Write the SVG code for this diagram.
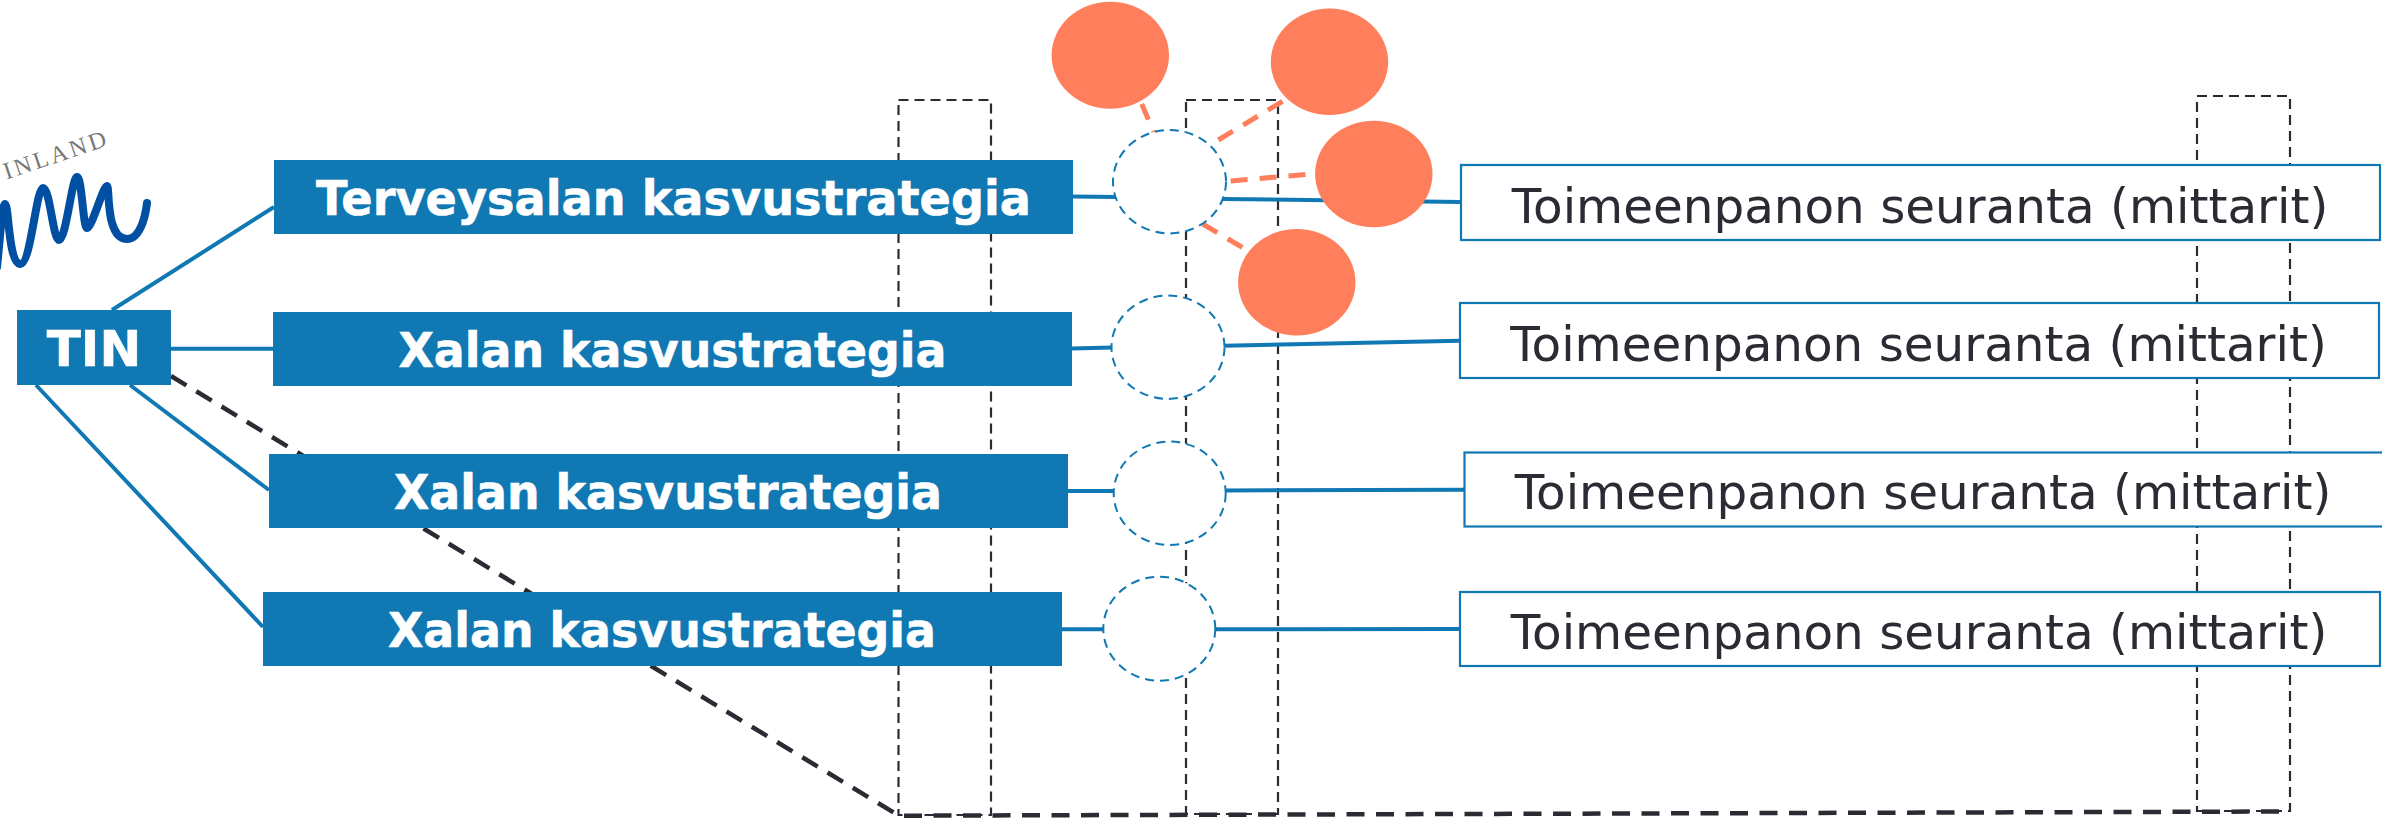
<svg xmlns="http://www.w3.org/2000/svg" width="2382" height="822" viewBox="0 0 2382 822">
<style>
.guide{fill:none;stroke:#2b2b33;stroke-width:2.2;stroke-dasharray:10 6}
.big{fill:none;stroke:#2b2b33;stroke-width:4.5;stroke-dasharray:18 11.5}
.link{fill:none;stroke:#1078b3;stroke-width:4}
.spoke{fill:none;stroke:#ff7f5c;stroke-width:5;stroke-dasharray:17 12}
.box{fill:#1078b3}
.out{fill:#fff;stroke:#1078b3;stroke-width:2.2}
.hub{fill:#fff;stroke:#1078b3;stroke-width:2;stroke-dasharray:9 6}
.blob{fill:#ff7f5c}
.w{font-family:"DejaVu Sans",sans-serif;font-weight:700;font-size:48px;fill:#fff;stroke:#fff;stroke-width:.6;text-anchor:middle}
.t{font-family:"DejaVu Sans",sans-serif;font-size:48.4px;fill:#2b2b33;text-anchor:middle}
</style>
<g id="logo">
<path d="M-3 267C0 240 2 204 5 204C9 204 8 262 20 264C31 265 36 188 43 188C50 188 53 240 59 240C66 240 72 177 77 177C82 177 83 228 87 228C92 228 103 186 107 186C110 186 105 239 127 239C139 239 145 220 147 203" fill="none" stroke="#004fa3" stroke-width="8" stroke-linecap="round" stroke-linejoin="round"/>
<text transform="translate(6.5 179.5) rotate(-18.5)" font-family="'Liberation Serif',serif" font-size="24" letter-spacing="3" fill="#777">INLAND</text>
</g>
<g id="guides">
<rect class="guide" x="898.5" y="100" width="92.5" height="715"/>
<rect class="guide" x="1186" y="100" width="92" height="714"/>
<rect class="guide" x="2197" y="96" width="93" height="715"/>
<path class="big" d="M171 376L899 815.7L2290 811.5"/>
</g>
<g id="connectors">
<path class="link" d="M112 310L274 207M171 348.7H273M130 385L269 490M36 385L263 627"/>
<path class="link" d="M1073 196.5L1116 197M1223 199L1461 202M1072 348.5L1112 347.5M1224 345.7L1460 340.7M1068 491H1114M1226 490.5L1464 489.7M1062 629.3H1103M1216 629.3L1460 629"/>
<path class="spoke" d="M1141.7 104L1155 135M1218.3 140L1283 101M1230.7 181L1316 173.5M1202.7 224L1245 249"/>
</g>
<g id="tin"><rect class="box" x="17" y="310" width="154" height="75"/><text class="w" style="font-size:50px" x="94" y="366">TIN</text></g>
<g id="s1"><rect class="box" x="274" y="160" width="799" height="74"/><text class="w" x="673.5" y="215" textLength="715" lengthAdjust="spacingAndGlyphs">Terveysalan kasvustrategia</text></g>
<g id="s2"><rect class="box" x="273" y="312" width="799" height="74"/><text class="w" x="672.5" y="367" textLength="548" lengthAdjust="spacingAndGlyphs">Xalan kasvustrategia</text></g>
<g id="s3"><rect class="box" x="269" y="454" width="799" height="74"/><text class="w" x="668" y="509" textLength="548" lengthAdjust="spacingAndGlyphs">Xalan kasvustrategia</text></g>
<g id="s4"><rect class="box" x="263" y="592" width="799" height="74"/><text class="w" x="662" y="647" textLength="548" lengthAdjust="spacingAndGlyphs">Xalan kasvustrategia</text></g>
<g id="h1"><ellipse class="hub" cx="1169.5" cy="181.7" rx="56.5" ry="51.7"/></g>
<g id="h2"><ellipse class="hub" cx="1168" cy="347.2" rx="56.5" ry="51.7"/></g>
<g id="h3"><ellipse class="hub" cx="1169.7" cy="493.3" rx="56" ry="51.7"/></g>
<g id="h4"><ellipse class="hub" cx="1159.3" cy="628.7" rx="56" ry="52"/></g>
<g id="m1"><rect class="out" x="1461" y="165" width="919" height="75"/><text class="t" x="1920" y="223">Toimeenpanon seuranta (mittarit)</text></g>
<g id="m2"><rect class="out" x="1460" y="303" width="919" height="75"/><text class="t" x="1918.5" y="361">Toimeenpanon seuranta (mittarit)</text></g>
<g id="m3"><rect class="out" x="1464.5" y="452.5" width="930" height="74"/><text class="t" x="1923" y="509">Toimeenpanon seuranta (mittarit)</text></g>
<g id="m4"><rect class="out" x="1460" y="592" width="920" height="74"/><text class="t" x="1919" y="649">Toimeenpanon seuranta (mittarit)</text></g>
<g id="b1"><ellipse class="blob" cx="1110.3" cy="55.2" rx="58.7" ry="53.5"/></g>
<g id="b2"><ellipse class="blob" cx="1329.5" cy="61.8" rx="58.7" ry="53.2"/></g>
<g id="b3"><ellipse class="blob" cx="1373.8" cy="174" rx="58.7" ry="53.3"/></g>
<g id="b4"><ellipse class="blob" cx="1296.8" cy="282.3" rx="58.7" ry="53.3"/></g>
</svg>
